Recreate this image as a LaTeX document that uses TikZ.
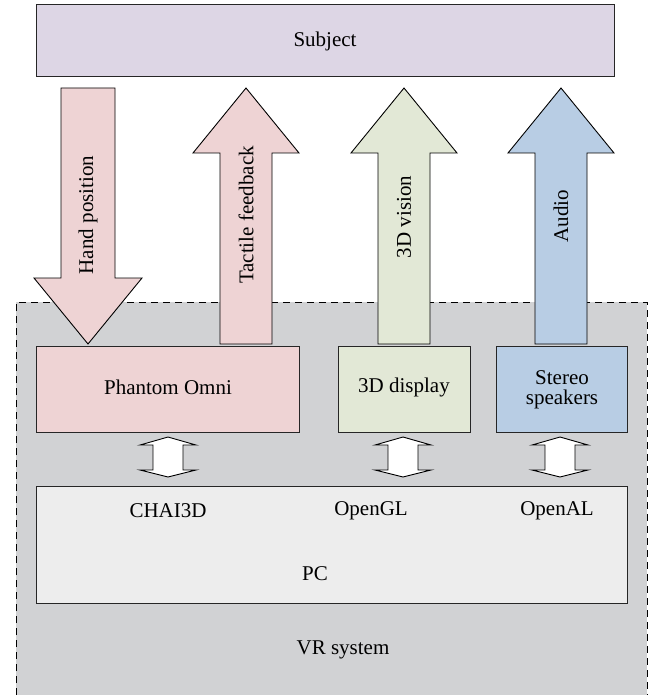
\documentclass[tikz,border=0pt]{standalone}
\usepackage{fontspec}
\setmainfont{Liberation Serif}
\definecolor{subj}{HTML}{DDD6E5}
\definecolor{pinkc}{HTML}{EED3D4}
\definecolor{greenc}{HTML}{E2E8D6}
\definecolor{bluec}{HTML}{B8CDE4}
\definecolor{grayc}{HTML}{D1D2D4}
\definecolor{pcc}{HTML}{EDEDED}
\begin{document}
\begin{tikzpicture}[x=1pt,y=-1pt,
  lbl/.style={font=\fontsize{21}{22}\selectfont, inner sep=0pt},
  boxst/.style={draw=black!85, line width=0.9pt},
  bigarrow/.style={draw=black, line width=0.9pt, line join=miter},
  dblarrow/.style={draw=black, fill=white, line width=0.9pt}]
\useasboundingbox (0,0) rectangle (649,695);
% VR system region
\fill[grayc] (16,302) rectangle (647,695);
\draw[dashed, dash pattern=on 7pt off 5pt, line width=0.9pt] (16,695) -- (16,302) -- (647,302) -- (647,695);
% Subject
\draw[boxst, fill=subj] (36,4) rectangle (614,76);
\node[lbl] (subject) at (325,41) {Subject};
% Hand position (down)
\draw[bigarrow, fill=pinkc] (61,88) -- (115,88) -- (115,278) -- (142,278) -- (88,344) -- (34,278) -- (61,278) -- cycle;
\node[lbl, rotate=90] (hand) at (88,215) {Hand position};
% Tactile feedback (up)
\draw[bigarrow, fill=pinkc] (220,344) -- (220,153) -- (193,153) -- (246,88) -- (299,153) -- (272,153) -- (272,344) -- cycle;
\node[lbl, rotate=90] (tactile) at (246,215) {Tactile feedback};
% 3D vision
\draw[bigarrow, fill=greenc] (378,344) -- (378,153) -- (351,153) -- (404,88) -- (457,153) -- (430,153) -- (430,344) -- cycle;
\node[lbl, rotate=90] (vision) at (404,217) {3D vision};
% Audio
\draw[bigarrow, fill=bluec] (535,344) -- (535,153) -- (508,153) -- (561,88) -- (614,153) -- (587,153) -- (587,344) -- cycle;
\node[lbl, rotate=90] (audio) at (561,216) {Audio};
% device boxes
\draw[boxst, fill=pinkc] (36,346) rectangle (299,432);
\node[lbl] (phantom) at (168,387) {Phantom Omni};
\draw[boxst, fill=greenc] (338,346) rectangle (470,432);
\node[lbl] (display) at (404,387) {3D display};
\draw[boxst, fill=bluec] (496,346) rectangle (627,432);
\node[lbl, align=center] (speakers) at (562,390) {Stereo\\[-2pt]speakers};
% PC box
\draw[boxst, fill=pcc] (36,486) rectangle (627,603);
\node[lbl] (chai) at (168,511) {CHAI3D};
\node[lbl] (opengl) at (371,511) {OpenGL};
\node[lbl] (openal) at (557,511) {OpenAL};
\node[lbl] (pc) at (315,574) {PC};
\node[lbl] (vr) at (343,650) {VR system};
% double arrows
\foreach \cx in {168,403,560}{
  \draw[dblarrow] (\cx,437) -- (\cx+28,445) -- (\cx+15,445) -- (\cx+15,470) -- (\cx+28,470) -- (\cx,477)
     -- (\cx-28,470) -- (\cx-15,470) -- (\cx-15,445) -- (\cx-28,445) -- cycle;
}
\end{tikzpicture}
\end{document}
